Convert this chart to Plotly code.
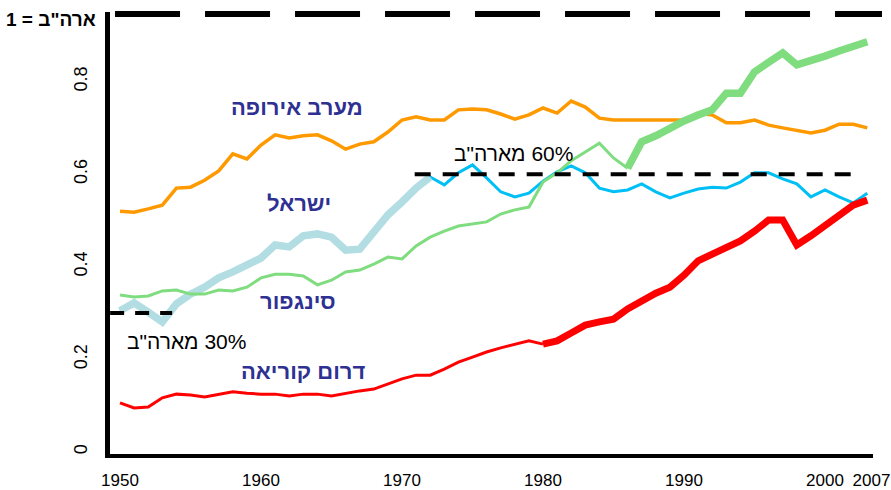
import plotly.graph_objects as go

# ---------------- data (share of US GDP per capita, US = 1) ----------------
YEARS = list(range(1950, 2004))

W_EUROPE = [0.520, 0.518, 0.525, 0.533, 0.570, 0.572, 0.587, 0.607, 0.644, 0.633,
            0.663, 0.685, 0.678, 0.683, 0.685, 0.672, 0.654, 0.665, 0.670, 0.691,
            0.717, 0.724, 0.717, 0.717, 0.739, 0.741, 0.739, 0.730, 0.719, 0.728,
            0.743, 0.732, 0.758, 0.745, 0.721, 0.717, 0.717, 0.717, 0.717, 0.717,
            0.717, 0.732, 0.728, 0.711, 0.711, 0.717, 0.706, 0.700, 0.695, 0.689,
            0.695, 0.708, 0.708, 0.700]

ISRAEL = [0.305, 0.322, 0.302, 0.281, 0.320, 0.341, 0.356, 0.376, 0.389, 0.404,
          0.419, 0.447, 0.443, 0.467, 0.471, 0.464, 0.436, 0.438, 0.477, 0.512,
          0.540, 0.570, 0.594, 0.577, 0.603, 0.620, 0.592, 0.562, 0.551, 0.559,
          0.585, 0.605, 0.618, 0.603, 0.570, 0.562, 0.566, 0.579, 0.562, 0.549,
          0.559, 0.568, 0.572, 0.570, 0.583, 0.603, 0.603, 0.590, 0.579, 0.551,
          0.566, 0.551, 0.538, 0.559]

SINGAPORE = [0.339, 0.335, 0.337, 0.348, 0.350, 0.341, 0.341, 0.350, 0.348, 0.356,
             0.376, 0.384, 0.384, 0.380, 0.361, 0.371, 0.389, 0.393, 0.406, 0.421,
             0.417, 0.445, 0.464, 0.477, 0.488, 0.492, 0.497, 0.514, 0.523, 0.529,
             0.583, 0.603, 0.629, 0.648, 0.667, 0.635, 0.613, 0.670, 0.683, 0.700,
             0.715, 0.728, 0.739, 0.775, 0.775, 0.821, 0.842, 0.862, 0.836, 0.844,
             0.855, 0.866, 0.877, 0.886]

S_KOREA = [0.106, 0.095, 0.097, 0.117, 0.125, 0.123, 0.119, 0.125, 0.130, 0.127,
           0.125, 0.125, 0.121, 0.125, 0.125, 0.121, 0.127, 0.132, 0.136, 0.147,
           0.158, 0.166, 0.166, 0.179, 0.194, 0.205, 0.216, 0.225, 0.233, 0.240,
           0.233, 0.240, 0.257, 0.274, 0.281, 0.287, 0.309, 0.328, 0.343, 0.356,
           0.382, 0.413, 0.428, 0.445, 0.456, 0.477, 0.501, 0.501, 0.447, 0.467,
           0.488, 0.510, 0.533, 0.544]

# highlighted (thick) periods
ISRAEL_FAST = (1950, 1972)
SINGAPORE_FAST = (1986, 2003)
KOREA_FAST = (1980, 2003)

# reference levels
US_LEVEL = 1.0
LEVEL_60 = 0.6
LEVEL_30 = 0.3

LABELS = {
    "europe": "מערב אירופה",
    "israel": "ישראל",
    "singapore": "סינגפור",
    "korea": "דרום קוריאה",
}
LRM, RLM = "\u200e", "\u200f"
US_LABEL = LRM + "1 = ארה\"ב"
L60_LABEL = RLM + "60% מארה\"ב"
L30_LABEL = RLM + "30% מארה\"ב"

XTICK_VALS = [1950, 1960, 1970, 1980, 1990, 2000, 2003.3]
XTICK_TEXT = ["1950", "1960", "1970", "1980", "1990", "2000", "2007"]
YTICK_VALS = [0, 0.2, 0.4, 0.6, 0.8]
YTICK_TEXT = ["0", "0.2", "0.4", "0.6", "0.8"]


def segment(xs, ys, lo, hi):
    pts = [(x, y) for x, y in zip(xs, ys) if lo <= x <= hi]
    return [p[0] for p in pts], [p[1] for p in pts]


FONT = "Liberation Sans, Arial, DejaVu Sans, sans-serif"
LABEL_COLOR = "#2e3192"

ORANGE = "#ff9900"
CYAN = "#00bff5"
LIGHTBLUE = "#b2dde3"
GREEN = "#7fdc7f"
RED = "#ff0000"

fig = go.Figure()

fig.add_trace(go.Scatter(x=YEARS, y=W_EUROPE, mode="lines",
                         line=dict(color=ORANGE, width=3.5)))
fig.add_trace(go.Scatter(x=YEARS, y=ISRAEL, mode="lines",
                         line=dict(color=CYAN, width=3)))
sx, sy = segment(YEARS, ISRAEL, *ISRAEL_FAST)
fig.add_trace(go.Scatter(x=sx, y=sy, mode="lines",
                         line=dict(color=LIGHTBLUE, width=7.5)))

gx, gy = segment(YEARS, SINGAPORE, 1950, SINGAPORE_FAST[0])
fig.add_trace(go.Scatter(x=gx, y=gy, mode="lines",
                         line=dict(color=GREEN, width=3)))
gx, gy = segment(YEARS, SINGAPORE, *SINGAPORE_FAST)
fig.add_trace(go.Scatter(x=gx, y=gy, mode="lines",
                         line=dict(color=GREEN, width=7.5)))

kx, ky = segment(YEARS, S_KOREA, 1950, KOREA_FAST[0])
fig.add_trace(go.Scatter(x=kx, y=ky, mode="lines",
                         line=dict(color=RED, width=3)))
kx, ky = segment(YEARS, S_KOREA, *KOREA_FAST)
fig.add_trace(go.Scatter(x=kx, y=ky, mode="lines",
                         line=dict(color=RED, width=7)))

# reference dashed lines
fig.add_shape(type="line", xref="paper", yref="paper",
              x0=0.0066, x1=1.0118, y0=0.9955, y1=0.9955,
              line=dict(color="black", width=6, dash="65px,25px"))
fig.add_shape(type="line", xref="x", yref="y",
              x0=1970.9, x1=2002.5, y0=LEVEL_60, y1=LEVEL_60,
              line=dict(color="black", width=4, dash="16px,12px"))
fig.add_shape(type="line", xref="x", yref="y",
              x0=1949.3, x1=1953.7, y0=LEVEL_30, y1=LEVEL_30,
              line=dict(color="black", width=4, dash="14px,11px"))

lab_font = dict(family=FONT, size=22, color=LABEL_COLOR)
for key, (x, y) in {"europe": (1962.55, 0.745), "israel": (1962.7, 0.536),
                    "singapore": (1962.6, 0.324), "korea": (1963.0, 0.173)}.items():
    fig.add_annotation(x=x, y=y, xref="x", yref="y", text="<b>%s</b>" % LABELS[key],
                       showarrow=False, font=lab_font, xanchor="center", yanchor="middle")

ref_font = dict(family=FONT, size=21, color="black")
fig.add_annotation(x=1977.9, y=0.644, xref="x", yref="y", text=L60_LABEL,
                   showarrow=False, font=ref_font, xanchor="center", yanchor="middle")
fig.add_annotation(x=1954.7, y=0.238, xref="x", yref="y", text=L30_LABEL,
                   showarrow=False, font=ref_font, xanchor="center", yanchor="middle")
fig.add_annotation(x=-0.0157, y=0.982, xref="paper", yref="paper", text="<b>%s</b>" % US_LABEL,
                   showarrow=False, font=dict(family=FONT, size=19, color="black"),
                   xanchor="right", yanchor="middle")

fig.update_layout(
    width=891, height=490,
    margin=dict(l=110, r=18, t=12, b=36, autoexpand=False),
    paper_bgcolor="white", plot_bgcolor="white",
    showlegend=False, hovermode=False,
    font=dict(family=FONT, size=18, color="black"),
)
fig.update_xaxes(range=[1949.291, 2003.404], tickvals=XTICK_VALS, ticktext=XTICK_TEXT,
                 showgrid=False, zeroline=False, showline=True, linewidth=4,
                 linecolor="black", ticks="", ticklabelstandoff=8, automargin=False,
                 ticklabeloverflow="allow",
                 tickfont=dict(family=FONT, size=17, color="black"))
fig.update_yaxes(range=[-0.0043, 0.9503], tickvals=YTICK_VALS, ticktext=YTICK_TEXT,
                 showgrid=False, zeroline=False, showline=True, linewidth=5,
                 linecolor="black", ticks="", tickangle=-90, ticklabelstandoff=11,
                 automargin=False, ticklabeloverflow="allow",
                 tickfont=dict(family=FONT, size=18, color="black"))

fig.write_html(
    "out.html",
    config={"displayModeBar": False, "staticPlot": True},
    post_script="document.body.style.margin='0';document.body.style.padding='0';"
                "document.documentElement.style.overflow='hidden';",
)
